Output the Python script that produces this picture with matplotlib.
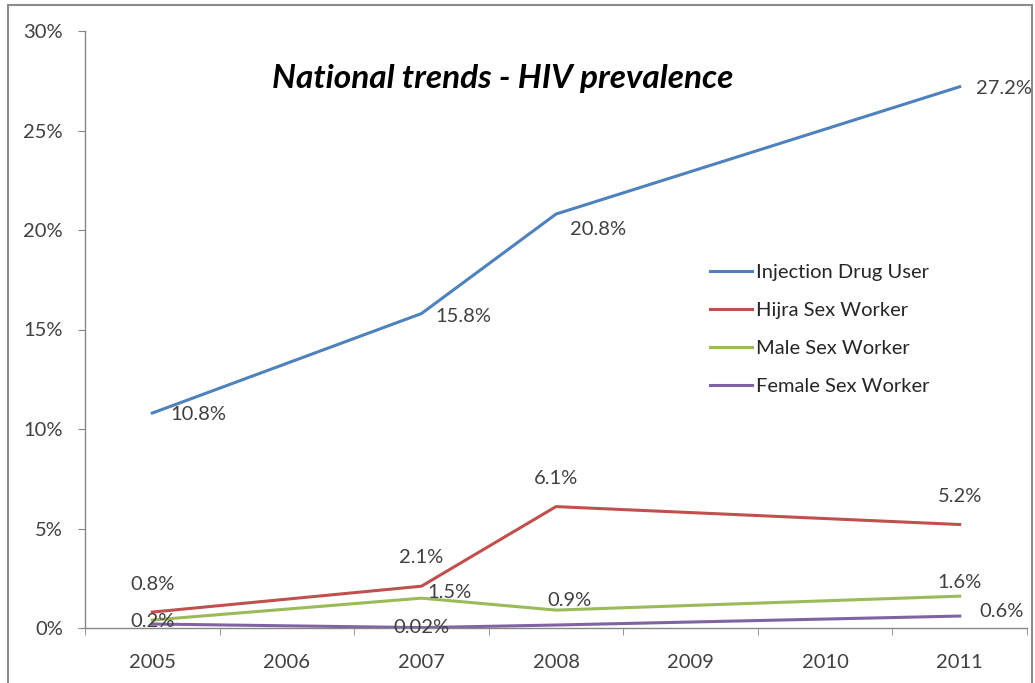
import numpy as np
import matplotlib.pyplot as plt
from matplotlib.patches import Rectangle
from matplotlib.ticker import FuncFormatter

plt.rcParams['font.family'] = ['Lato', 'DejaVu Sans']

years = ['2005', '2006', '2007', '2008', '2009', '2010', '2011']
nan = np.nan

# prevalence in percent, gaps where no survey was run
idu = [10.8, nan, 15.8, 20.8, nan, nan, 27.2]
hijra = [0.8, nan, 2.1, 6.1, nan, nan, 5.2]
male = [0.4, nan, 1.5, 0.9, nan, nan, 1.6]
female = [0.2, nan, 0.02, 0.15, nan, nan, 0.6]

idu_labels = ['10.8%', None, '15.8%', '20.8%', None, None, '27.2%']
hijra_labels = ['0.8%', None, '2.1%', '6.1%', None, None, '5.2%']
male_labels = [None, None, '1.5%', '0.9%', None, None, '1.6%']
female_labels = ['0.2%', None, '0.02%', None, None, None, '0.6%']

series = [
    ('Injection Drug User', idu, idu_labels, '#4F81BD'),
    ('Hijra Sex Worker', hijra, hijra_labels, '#C0504D'),
    ('Male Sex Worker', male, male_labels, '#9BBB59'),
    ('Female Sex Worker', female, female_labels, '#8064A2'),
]

# label offsets in points (dx, dy) per series
offsets = {
    'Injection Drug User': [(13, -1), None, (10, -2), (10, -11), None, None, (12, -1)],
    'Hijra Sex Worker': [(0, 20), None, (0, 21), (0, 20), None, None, (0, 20)],
    'Male Sex Worker': [(0, 0), None, (20, 4), (10, 7), None, None, (0, 10)],
    'Female Sex Worker': [(0, 2), None, (0, 0), None, None, None, (30, 3)],
}
aligns = {
    'Injection Drug User': 'left',
    'Hijra Sex Worker': 'center',
    'Male Sex Worker': 'center',
    'Female Sex Worker': 'center',
}

fig = plt.figure(figsize=(10.35, 6.83), dpi=100)
ax = fig.add_axes([85 / 1035, 1 - 628 / 683, (1027 - 85) / 1035, (628 - 31) / 683])

x = np.arange(len(years))
for name, vals, labels, color in series:
    vals = np.array(vals, dtype=float)
    ok = ~np.isnan(vals)
    ax.plot(x[ok], vals[ok], color=color, lw=2.2, label=name, solid_joinstyle='round')
    for i, lab in enumerate(labels):
        if lab is None:
            continue
        dx, dy = offsets[name][i]
        ax.annotate(lab, (x[i], vals[i]), xytext=(dx, dy), textcoords='offset points',
                    ha=aligns[name], va='center', fontsize=14.5, color='#404040')

ax.set_xlim(-0.5, 6.5)
ax.set_ylim(0, 30)
ax.set_yticks(np.arange(0, 31, 5))
ax.yaxis.set_major_formatter(FuncFormatter(lambda v, p: f'{v:.0f}%'))
ax.set_xticks(x)
ax.set_xticklabels(years)
ax.set_xticks(np.arange(-0.5, 7, 1), minor=True)
ax.tick_params(axis='x', which='major', length=0, pad=19, labelsize=14.5, labelcolor='#404040')
ax.tick_params(axis='x', which='minor', length=5, direction='out', color='#868686')
ax.tick_params(axis='y', length=5, direction='out', color='#868686', pad=11,
               labelsize=14.5, labelcolor='#404040')

for side in ['top', 'right']:
    ax.spines[side].set_visible(False)
for side in ['left', 'bottom']:
    ax.spines[side].set_color('#868686')
    ax.spines[side].set_linewidth(1.0)

ax.text(0.443, 0.92, 'National trends - HIV prevalence', transform=ax.transAxes,
        ha='center', va='center', fontsize=24, fontweight='bold', style='italic',
        color='black')

ax.legend(loc='center left', bbox_to_anchor=(0.663, 0.50), frameon=False, fontsize=14.5,
          handlelength=2.1, handletextpad=0.2, labelspacing=1.05, borderpad=0,
          borderaxespad=0, labelcolor='#262626')

# outer chart border
fig.patches.append(Rectangle((8 / 1035, -0.02), (1032 - 8) / 1035, 1.02 - 5 / 683,
                             transform=fig.transFigure, fill=False, edgecolor='#8c8c8c',
                             lw=1.5))

fig.savefig('out.png', dpi=100)
